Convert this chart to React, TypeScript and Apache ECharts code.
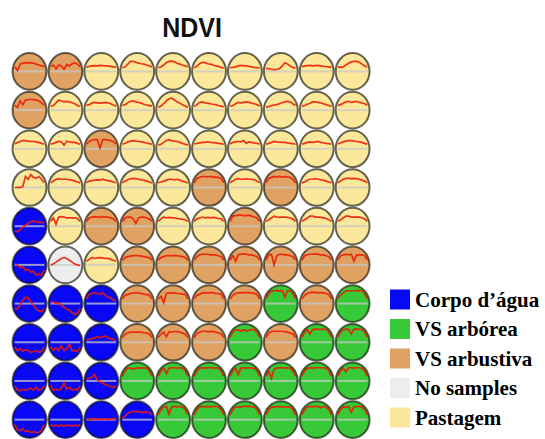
import React, { useEffect, useRef } from "react";
import * as echarts from "echarts";

// Class names (legend order) and map cell classes (0..4 index into classNames)
const classNames = ["Corpo d’água", "VS arbórea", "VS arbustiva", "No samples", "Pastagem"];

const classRow1 = [2, 2, 4, 4, 4, 4, 4, 4, 4, 4];
const classRow2 = [2, 4, 4, 4, 4, 4, 4, 4, 4, 4];
const classRow3 = [4, 4, 2, 4, 4, 4, 4, 4, 4, 4];
const classRow4 = [4, 4, 4, 4, 4, 2, 4, 2, 4, 4];
const classRow5 = [0, 4, 2, 2, 4, 4, 2, 4, 4, 4];
const classRow6 = [0, 3, 4, 2, 2, 2, 2, 2, 2, 2];
const classRow7 = [0, 0, 0, 2, 2, 2, 2, 1, 2, 1];
const classRow8 = [0, 0, 0, 2, 2, 2, 1, 2, 1, 1];
const classRow9 = [0, 0, 0, 1, 1, 1, 1, 1, 1, 1];
const classRow10 = [0, 0, 0, 0, 1, 1, 1, 1, 1, 1];

// Codebook NDVI profiles per cell (relative to the cell's mid line)
const profRow1 = [
  [0.3, 0.05, 0.4, 0.45, 0.47, 0.48, 0.47, 0.45, 0.4, 0.35, 0.3, 0.28],
  [0.3, 0.35, 0.15, 0.35, 0.3, 0.12, 0.38, 0.3, 0.42, 0.47, 0.4, 0.35],
  [0.22, 0.28, 0.3, 0.32, 0.3, 0.33, 0.32, 0.3, 0.3, 0.28, 0.25, 0.22],
  [0.2, 0.25, 0.4, 0.55, 0.55, 0.5, 0.45, 0.42, 0.4, 0.35, 0.3, 0.25],
  [0.2, 0.25, 0.35, 0.48, 0.55, 0.56, 0.52, 0.45, 0.4, 0.35, 0.3, 0.25],
  [0.2, 0.28, 0.42, 0.5, 0.48, 0.42, 0.4, 0.35, 0.3, 0.28, 0.22, 0.18],
  [0.2, 0.22, 0.25, 0.3, 0.33, 0.32, 0.3, 0.28, 0.25, 0.22, 0.2, 0.18],
  [0.15, 0.15, 0.12, 0.1, 0.12, 0.15, 0.3, 0.47, 0.4, 0.3, 0.22, 0.18],
  [0.28, 0.3, 0.32, 0.33, 0.3, 0.32, 0.33, 0.3, 0.28, 0.27, 0.25, 0.22],
  [0.25, 0.22, 0.25, 0.35, 0.45, 0.52, 0.55, 0.55, 0.5, 0.4, 0.3, 0.25],
];
const profRow2 = [
  [0.5, 0.15, 0.5, 0.3, 0.55, 0.58, 0.58, 0.57, 0.55, 0.5, 0.4, 0.3],
  [0.2, 0.25, 0.4, 0.55, 0.5, 0.45, 0.48, 0.45, 0.4, 0.35, 0.25, 0.2],
  [0.25, 0.3, 0.38, 0.42, 0.4, 0.38, 0.4, 0.42, 0.4, 0.35, 0.28, 0.22],
  [0.25, 0.3, 0.4, 0.48, 0.5, 0.45, 0.42, 0.38, 0.32, 0.28, 0.25, 0.22],
  [0.15, 0.22, 0.35, 0.5, 0.62, 0.65, 0.55, 0.45, 0.38, 0.3, 0.22, 0.15],
  [0.2, 0.3, 0.42, 0.45, 0.4, 0.38, 0.35, 0.32, 0.3, 0.25, 0.22, 0.18],
  [0.2, 0.25, 0.35, 0.42, 0.4, 0.42, 0.45, 0.42, 0.38, 0.35, 0.3, 0.22],
  [0.15, 0.2, 0.25, 0.28, 0.3, 0.35, 0.4, 0.45, 0.48, 0.45, 0.35, 0.25],
  [0.2, 0.25, 0.32, 0.38, 0.45, 0.45, 0.42, 0.4, 0.35, 0.3, 0.25, 0.2],
  [0.25, 0.3, 0.38, 0.45, 0.48, 0.42, 0.45, 0.48, 0.42, 0.4, 0.35, 0.3],
];
const profRow3 = [
  [0.3, 0.35, 0.4, 0.45, 0.45, 0.42, 0.4, 0.4, 0.38, 0.35, 0.3, 0.25],
  [0.25, 0.3, 0.35, 0.4, 0.38, 0.2, 0.42, 0.38, 0.35, 0.35, 0.3, 0.25],
  [0.35, 0.4, 0.48, 0.5, 0.5, 0.05, 0.5, 0.5, 0.48, 0.45, 0.4, 0.35],
  [0.25, 0.3, 0.38, 0.42, 0.45, 0.42, 0.4, 0.38, 0.35, 0.32, 0.28, 0.25],
  [0.2, 0.25, 0.35, 0.45, 0.5, 0.45, 0.42, 0.4, 0.35, 0.3, 0.25, 0.2],
  [0.28, 0.3, 0.32, 0.35, 0.35, 0.38, 0.35, 0.33, 0.32, 0.3, 0.28, 0.25],
  [0.3, 0.35, 0.38, 0.4, 0.38, 0.45, 0.3, 0.38, 0.35, 0.32, 0.3, 0.28],
  [0.25, 0.3, 0.35, 0.4, 0.38, 0.36, 0.35, 0.35, 0.32, 0.3, 0.28, 0.25],
  [0.25, 0.3, 0.35, 0.38, 0.35, 0.38, 0.4, 0.35, 0.33, 0.3, 0.28, 0.25],
  [0.28, 0.32, 0.38, 0.42, 0.45, 0.45, 0.42, 0.4, 0.38, 0.35, 0.3, 0.25],
];
const profRow4 = [
  [0.0, 0.0, 0.0, 0.05, 0.6, 0.45, 0.7, 0.55, 0.5, 0.6, 0.45, 0.35],
  [0.3, 0.35, 0.45, 0.48, 0.45, 0.45, 0.45, 0.42, 0.4, 0.35, 0.3, 0.25],
  [0.3, 0.35, 0.38, 0.4, 0.42, 0.4, 0.45, 0.4, 0.38, 0.35, 0.3, 0.28],
  [0.3, 0.35, 0.42, 0.48, 0.5, 0.48, 0.45, 0.42, 0.4, 0.35, 0.3, 0.25],
  [0.28, 0.3, 0.35, 0.4, 0.45, 0.45, 0.42, 0.45, 0.4, 0.35, 0.3, 0.25],
  [0.45, 0.5, 0.55, 0.6, 0.6, 0.58, 0.6, 0.58, 0.55, 0.55, 0.5, 0.45],
  [0.3, 0.35, 0.45, 0.48, 0.45, 0.45, 0.48, 0.45, 0.45, 0.42, 0.35, 0.3],
  [0.4, 0.5, 0.55, 0.6, 0.55, 0.62, 0.55, 0.6, 0.58, 0.55, 0.45, 0.4],
  [0.25, 0.3, 0.4, 0.45, 0.45, 0.48, 0.45, 0.42, 0.4, 0.35, 0.3, 0.25],
  [0.3, 0.35, 0.45, 0.5, 0.5, 0.48, 0.5, 0.48, 0.45, 0.4, 0.35, 0.3],
];
const profRow5 = [
  [-0.45, -0.3, -0.2, -0.05, 0.05, 0.15, 0.25, 0.28, 0.25, 0.22, 0.2, 0.2],
  [0.5, 0.45, 0.1, 0.5, 0.52, 0.5, 0.45, 0.45, 0.45, 0.45, 0.42, 0.4],
  [0.4, 0.45, 0.5, 0.52, 0.5, 0.48, 0.52, 0.5, 0.5, 0.45, 0.4, 0.35],
  [0.4, 0.45, 0.5, 0.5, 0.4, 0.15, 0.45, 0.5, 0.5, 0.45, 0.4, 0.35],
  [0.3, 0.4, 0.5, 0.45, 0.48, 0.45, 0.45, 0.42, 0.4, 0.38, 0.35, 0.3],
  [0.35, 0.4, 0.45, 0.5, 0.45, 0.48, 0.45, 0.48, 0.45, 0.42, 0.4, 0.35],
  [0.5, 0.55, 0.58, 0.6, 0.6, 0.58, 0.58, 0.6, 0.55, 0.5, 0.45, 0.4],
  [0.3, 0.35, 0.45, 0.55, 0.5, 0.48, 0.5, 0.5, 0.48, 0.45, 0.4, 0.3],
  [0.3, 0.35, 0.45, 0.55, 0.55, 0.5, 0.5, 0.48, 0.45, 0.42, 0.35, 0.3],
  [0.3, 0.35, 0.45, 0.55, 0.55, 0.5, 0.5, 0.5, 0.5, 0.45, 0.4, 0.35],
];
const profRow6 = [
  [0.05, 0.0, -0.15, -0.1, -0.3, -0.25, -0.4, -0.35, -0.55, -0.5, -0.6, -0.55],
  [0.0, 0.05, 0.15, 0.25, 0.35, 0.4, 0.35, 0.25, 0.15, 0.05, 0.0, -0.05],
  [0.2, 0.3, 0.4, 0.35, 0.38, 0.4, 0.38, 0.35, 0.35, 0.3, 0.25, 0.2],
  [0.35, 0.4, 0.45, 0.48, 0.5, 0.5, 0.5, 0.48, 0.45, 0.42, 0.4, 0.35],
  [0.35, 0.4, 0.45, 0.5, 0.5, 0.5, 0.52, 0.5, 0.48, 0.45, 0.4, 0.35],
  [0.4, 0.45, 0.55, 0.58, 0.58, 0.58, 0.55, 0.55, 0.55, 0.5, 0.45, 0.4],
  [0.4, 0.5, 0.2, 0.55, 0.58, 0.6, 0.58, 0.55, 0.55, 0.5, 0.45, 0.4],
  [0.5, 0.55, 0.58, 0.0, 0.5, 0.58, 0.58, 0.55, 0.55, 0.5, 0.45, 0.4],
  [0.4, 0.5, 0.55, 0.58, 0.58, 0.6, 0.58, 0.55, 0.55, 0.5, 0.45, 0.4],
  [0.45, 0.5, 0.55, 0.58, 0.55, 0.58, 0.2, 0.55, 0.55, 0.55, 0.5, 0.45],
];
const profRow7 = [
  [-0.5, -0.3, -0.1, 0.2, 0.35, 0.3, 0.1, -0.1, -0.3, -0.4, -0.45, -0.4],
  [0.1, 0.1, 0.0, 0.05, -0.1, -0.2, -0.3, -0.35, -0.5, -0.6, -0.7, -0.65],
  [0.4, 0.5, 0.55, 0.6, 0.55, 0.5, 0.6, 0.45, 0.35, 0.3, 0.2, 0.15],
  [0.4, 0.45, 0.5, 0.55, 0.58, 0.58, 0.58, 0.55, 0.52, 0.5, 0.45, 0.4],
  [0.35, 0.4, 0.05, 0.55, 0.58, 0.58, 0.58, 0.55, 0.55, 0.52, 0.5, 0.45],
  [0.4, 0.45, 0.5, 0.58, 0.6, 0.58, 0.6, 0.6, 0.55, 0.55, 0.5, 0.4],
  [0.35, 0.45, 0.55, 0.58, 0.58, 0.6, 0.6, 0.6, 0.58, 0.55, 0.5, 0.45],
  [0.55, 0.62, 0.68, 0.7, 0.72, 0.68, 0.72, 0.35, 0.7, 0.7, 0.68, 0.6],
  [0.4, 0.45, 0.55, 0.6, 0.62, 0.6, 0.6, 0.6, 0.58, 0.55, 0.5, 0.45],
  [0.3, 0.45, 0.6, 0.68, 0.7, 0.7, 0.7, 0.7, 0.72, 0.7, 0.68, 0.6],
];
const profRow8 = [
  [-0.4, -0.45, -0.35, -0.5, -0.4, -0.45, -0.55, -0.5, -0.45, -0.55, -0.5, -0.55],
  [-0.5, -0.45, -0.3, -0.45, -0.2, -0.45, -0.35, -0.1, -0.45, -0.45, -0.5, -0.45],
  [0.1, 0.15, 0.2, 0.25, 0.3, 0.25, 0.3, 0.35, 0.25, 0.2, 0.15, 0.1],
  [0.35, 0.45, 0.52, 0.55, 0.55, 0.55, 0.55, 0.55, 0.52, 0.5, 0.45, 0.4],
  [0.4, 0.45, 0.55, 0.3, 0.58, 0.55, 0.6, 0.58, 0.55, 0.5, 0.45, 0.4],
  [0.4, 0.5, 0.55, 0.6, 0.6, 0.58, 0.58, 0.6, 0.55, 0.52, 0.45, 0.4],
  [0.6, 0.65, 0.68, 0.68, 0.6, 0.68, 0.62, 0.65, 0.7, 0.68, 0.65, 0.6],
  [0.4, 0.5, 0.58, 0.6, 0.6, 0.6, 0.6, 0.58, 0.55, 0.5, 0.45, 0.4],
  [0.6, 0.65, 0.7, 0.45, 0.7, 0.72, 0.7, 0.7, 0.7, 0.72, 0.7, 0.65],
  [0.55, 0.6, 0.7, 0.72, 0.7, 0.45, 0.72, 0.72, 0.7, 0.72, 0.7, 0.65],
];
const profRow9 = [
  [-0.5, -0.5, -0.55, -0.45, -0.5, -0.45, -0.4, -0.5, -0.35, -0.5, -0.45, -0.55],
  [-0.55, -0.5, -0.45, -0.5, -0.4, -0.1, -0.45, -0.35, -0.5, -0.45, -0.5, -0.55],
  [0.1, 0.15, 0.2, 0.35, 0.05, -0.05, -0.1, -0.2, -0.25, -0.3, -0.35, -0.35],
  [0.6, 0.68, 0.72, 0.7, 0.65, 0.7, 0.72, 0.7, 0.72, 0.7, 0.65, 0.6],
  [0.62, 0.65, 0.7, 0.4, 0.7, 0.72, 0.72, 0.7, 0.72, 0.7, 0.68, 0.62],
  [0.6, 0.65, 0.7, 0.72, 0.7, 0.72, 0.72, 0.7, 0.72, 0.7, 0.65, 0.6],
  [0.6, 0.65, 0.7, 0.35, 0.7, 0.72, 0.7, 0.72, 0.7, 0.72, 0.7, 0.65],
  [0.6, 0.65, 0.15, 0.65, 0.7, 0.72, 0.72, 0.7, 0.72, 0.7, 0.68, 0.6],
  [0.62, 0.68, 0.7, 0.72, 0.7, 0.72, 0.72, 0.72, 0.72, 0.72, 0.7, 0.62],
  [0.6, 0.68, 0.7, 0.5, 0.72, 0.72, 0.7, 0.72, 0.72, 0.72, 0.7, 0.65],
];
const profRow10 = [
  [-0.5, -0.55, -0.6, -0.5, -0.65, -0.6, -0.7, -0.65, -0.7, -0.75, -0.7, -0.75],
  [-0.3, -0.35, -0.3, -0.35, -0.3, -0.35, -0.3, -0.32, -0.35, -0.3, -0.35, -0.3],
  [0.0, 0.02, 0.0, 0.05, 0.0, 0.03, 0.02, 0.05, 0.0, 0.03, 0.05, 0.0],
  [0.05, 0.2, 0.35, 0.4, 0.45, 0.42, 0.45, 0.4, 0.42, 0.4, 0.4, 0.38],
  [0.6, 0.65, 0.7, 0.72, 0.3, 0.7, 0.72, 0.7, 0.72, 0.7, 0.68, 0.6],
  [0.6, 0.65, 0.7, 0.72, 0.7, 0.72, 0.7, 0.72, 0.72, 0.7, 0.68, 0.6],
  [0.55, 0.62, 0.68, 0.7, 0.7, 0.72, 0.72, 0.72, 0.7, 0.72, 0.7, 0.62],
  [0.6, 0.62, 0.68, 0.7, 0.7, 0.72, 0.7, 0.68, 0.7, 0.72, 0.7, 0.65],
  [0.6, 0.65, 0.7, 0.72, 0.7, 0.72, 0.72, 0.65, 0.72, 0.7, 0.68, 0.62],
  [0.6, 0.65, 0.7, 0.68, 0.72, 0.4, 0.7, 0.72, 0.72, 0.7, 0.68, 0.6],
];

const classRows = [classRow1, classRow2, classRow3, classRow4, classRow5, classRow6, classRow7, classRow8, classRow9, classRow10];
const profRows = [profRow1, profRow2, profRow3, profRow4, profRow5, profRow6, profRow7, profRow8, profRow9, profRow10];

const CLASS_COLORS = ["#0808f6", "#38c938", "#e0a262", "#ededed", "#fbe89b"];

function buildOption() {
  const series = classNames.map((name, k) => {
    const cells: { col: number; row: number; prof: number[] }[] = [];
    classRows.forEach((rowArr, r) =>
      rowArr.forEach((cls, c) => {
        if (cls === k) cells.push({ col: c, row: r, prof: profRows[r][c] });
      })
    );
    const color = CLASS_COLORS[k];
    return {
      type: "custom",
      name,
      itemStyle: { color },
      data: cells.map((cell) => [cell.col + 0.5, cell.row + 0.5]),
      encode: { x: 0, y: 1 },
      renderItem: (params: any, api: any) => {
        const cell = cells[params.dataIndex];
        const c = api.coord([api.value(0), api.value(1)]);
        const s = api.size([1, 1]);
        const rx = Math.abs(s[0]) / 2 - 1;
        const ry = Math.abs(s[1]) / 2 - 1;
        const n = cell.prof.length;
        const half = rx * 0.87;
        const pts = cell.prof.map((v, i) => {
          const dx = -half + (2 * half * i) / (n - 1);
          const t = dx / (rx - 1.5);
          const lim = (ry - 2.2) * Math.sqrt(Math.max(0, 1 - t * t));
          let dy = v * ry;
          dy = Math.max(-lim, Math.min(lim, dy));
          return [c[0] + dx, c[1] - dy];
        });
        return {
          type: "group",
          children: [
            {
              type: "ellipse",
              shape: { cx: c[0], cy: c[1], rx, ry },
              style: { fill: color, stroke: "rgba(20,20,10,0.65)", lineWidth: 2 },
            },
            {
              type: "line",
              shape: { x1: c[0] - rx + 2, y1: c[1], x2: c[0] + rx - 2, y2: c[1] },
              style: { stroke: "rgba(200,200,200,0.75)", lineWidth: 2 },
            },
            {
              type: "polyline",
              shape: { points: pts },
              style: { stroke: "rgba(238,25,0,0.88)", lineWidth: 1.7, fill: null },
            },
          ],
        };
      },
    };
  });

  return {
    animation: false,
    backgroundColor: "#ffffff",
    grid: { left: 11.55, top: 52.1, width: 359, height: 388 },
    xAxis: { type: "value", min: 0, max: 10, show: false },
    yAxis: { type: "value", min: 0, max: 10, inverse: true, show: false },
    legend: {
      orient: "vertical",
      left: 390,
      top: 289,
      padding: 0,
      itemWidth: 20,
      itemHeight: 20,
      itemGap: 8.5,
      icon: "rect",
      selectedMode: false,
      data: classNames,
      textStyle: {
        fontFamily: "Liberation Serif",
        fontWeight: "bold",
        fontSize: 21,
        lineHeight: 20,
        color: "#000",
      },
    },
    graphic: [
      {
        type: "text",
        x: 192,
        y: 28,
        scaleY: 1.08,
        style: {
          text: "NDVI",
          font: 'bold 25px "Liberation Sans"',
          fill: "#111",
          textAlign: "center",
          textVerticalAlign: "middle",
        },
      },
    ],
    series,
  };
}

export default function App() {
  const ref = useRef<HTMLDivElement>(null);
  useEffect(() => {
    if (!ref.current) return;
    const chart = echarts.init(ref.current, undefined, { renderer: "svg" });
    chart.setOption(buildOption() as any);
    return () => chart.dispose();
  }, []);
  return (
    <div
      ref={ref}
      style={{ position: "fixed", left: 0, top: 0, width: 545, height: 439, background: "#fff" }}
    />
  );
}
